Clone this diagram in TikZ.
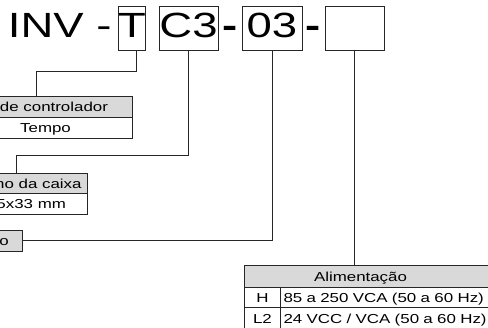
\documentclass[tikz,border=0pt]{standalone}
\usepackage{fontspec}
\setmainfont{Liberation Sans}[FakeStretch=1.3]
\definecolor{lc}{HTML}{262626}
\definecolor{hg}{HTML}{D9D9D9}
\begin{document}
\begin{tikzpicture}[x=1pt,y=-1pt,
  ln/.style={draw=lc,line width=1pt},
  bigtxt/.style={font=\fontsize{35}{40}\selectfont,inner sep=0pt,text height=25pt,text depth=7pt},
  codebox/.style={bigtxt,draw=lc,line width=1pt,minimum height=44pt},
  cell/.style={draw=lc,line width=1pt,inner sep=0pt,font=\fontsize{13}{15}\selectfont,text height=9.3pt,text depth=0pt},
  hdr/.style={cell,fill=hg,minimum height=21pt},
  rowc/.style={cell,fill=white,minimum height=21pt}]
\useasboundingbox (0,0) rectangle (488,328);
\clip (0,0) rectangle (488,328);
% code line
\node[bigtxt,anchor=base west] (inv) at (7.7,38) {INV -};
\node[codebox,minimum width=24pt] (tbox) at (132,29) {T};
\node[codebox,minimum width=59pt] (c3box) at (188.5,29) {C3};
\node[bigtxt,anchor=base,font=\fontsize{35}{40}\selectfont\bfseries] (dashA) at (230,38) {-};
\node[codebox,minimum width=60pt] (box03) at (272,29) {03};
\node[bigtxt,anchor=base,font=\fontsize{35}{40}\selectfont\bfseries] (dashB) at (313,38) {-};
\node[codebox,minimum width=59pt] (boxe) at (354.5,29) {};
% table 1
\node[hdr,anchor=north east,minimum width=194pt] (hdr1) at (133,96) {Tipo de controlador};
\node[rowc,anchor=north east,minimum width=174pt] (row1) at (133,117) {Tempo};
% table 2
\node[hdr,anchor=north east,minimum width=149pt,minimum height=20pt] (hdr2) at (88,173) {Tamanho da caixa};
\node[rowc,anchor=north east,minimum width=122pt] (row2) at (88,193) {75x33 mm};
% table 3
\node[hdr,anchor=north east,minimum width=144pt] (hdr3) at (23,230) {Faixa de tempo};
% table 4
\node[hdr,anchor=north west,minimum width=260pt,minimum height=22pt] (hdr4) at (244,265) {Alimentação\hspace*{28pt}};
\node[rowc,anchor=north west,minimum width=36pt,minimum height=20pt] (c1) at (244,287) {H};
\node[rowc,anchor=north west,minimum width=36pt,minimum height=22pt] (c2) at (244,307) {L2};
\node[rowc,anchor=north west,minimum height=20pt,text width=221pt,align=left,inner xsep=3pt] (v1) at (280,287) {85 a 250 VCA (50 a 60 Hz)};
\node[rowc,anchor=north west,minimum height=22pt,text width=221pt,align=left,inner xsep=3pt] (v2) at (280,307) {24 VCC / VCA (50 a 60 Hz)};
% connectors
\draw[ln] ([xshift=4pt]tbox.south) -- ++(0,20) -| ([xshift=-97pt]hdr1.north east);
\draw[ln] (c3box.south) -- ++(0,104) -| ([xshift=-72pt]hdr2.north east);
\draw[ln] (box03.south) |- (hdr3.east);
\draw[ln] (boxe.south) -- (boxe.south |- hdr4.north);
\end{tikzpicture}
\end{document}
